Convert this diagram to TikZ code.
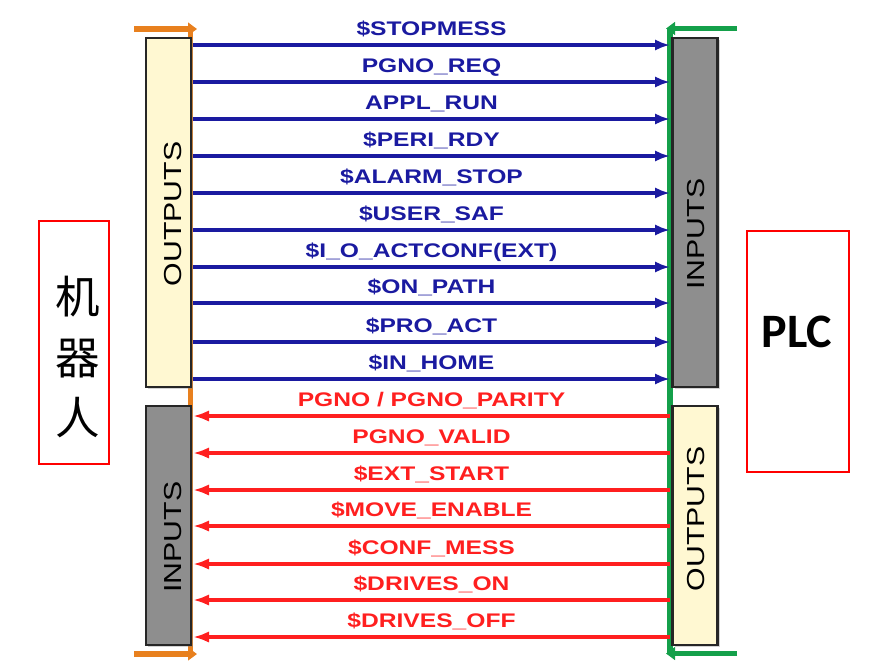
\documentclass[tikz,border=0pt]{standalone}
\usepackage{fontspec}
\setmainfont{Liberation Sans}
\newfontfamily\cjkfont{Noto Sans CJK SC}
\newfontfamily\plcfont{Carlito}
\usetikzlibrary{
  arrows.meta,
  shadows
}
\definecolor{ioBlue}{HTML}{1A1AA0}
\definecolor{ioRed}{HTML}{FF1F1F}
\definecolor{ioOrange}{HTML}{E8801E}
\definecolor{ioGreen}{HTML}{14A04A}
\definecolor{ioCream}{HTML}{FFF8D2}
\definecolor{ioGray}{HTML}{8E8E8E}
\definecolor{ioFrame}{HTML}{FF0000}
\newcommand{\widen}[1]{\scalebox{1.25}[1]{#1}}
\tikzset{
  iobox/.style={
    draw=black!85, line width=2pt, minimum width=1.35cm, inner sep=0pt,
    drop shadow={shadow xshift=0.6mm, shadow yshift=-0.6mm, opacity=0.35}
  },
  outbox/.style={iobox, fill=ioCream},
  inbox/.style={iobox, fill=ioGray},
  boxtext/.style={rotate=90, font=\fontsize{21}{24}\selectfont, inner sep=0pt},
  sidebox/.style={draw=ioFrame, line width=1.6pt, inner sep=0pt},
  sigout/.style={-{Latex[length=4.5mm, width=3.4mm]}, line width=2.8pt, ioBlue},
  sigin/.style={-{Latex[length=4.8mm, width=3.4mm]}, line width=2.8pt, ioRed},
  outtag/.style={font=\fontsize{16.8}{18}\selectfont\bfseries, text=ioBlue, anchor=base, inner sep=0pt},
  intag/.style={outtag, text=ioRed},
  busline/.style={line width=4.6pt},
  robotbus/.style={busline, ioOrange},
  plcbus/.style={busline, ioGreen},
  bustip/.style={-{Triangle[length=2.7mm, width=3.8mm]}}
}
\begin{document}
\begin{tikzpicture}[x=0.03cm, y=-0.03cm]
  \useasboundingbox (0,0) rectangle (880,670);
  % side frames
  \node[sidebox, minimum width=2.1cm, minimum height=7.29cm] (robot) at (74,342.5) {};
  \node[font=\cjkfont\fontsize{38}{52}\selectfont, align=center] (robotname) at (78,357) {机\\器\\人};
  \node[sidebox, minimum width=3.06cm, minimum height=7.23cm] (plc) at (798,351.5) {};
  \node[font=\plcfont\bfseries\fontsize{41}{44}\selectfont] (plcname) at (797,332) {PLC};
  % buses
  \coordinate (rtop) at (190.5,29); \coordinate (rbot) at (190.5,654);
  \coordinate (rtopfree) at (134,29); \coordinate (rbotfree) at (134,654);
  \coordinate (rtoptip) at (197,29); \coordinate (rbottip) at (197,654);
  \coordinate (ptop) at (670,28.5); \coordinate (pbot) at (670,653.5);
  \coordinate (ptopfree) at (737,28.5); \coordinate (pbotfree) at (737,653.5);
  \coordinate (ptoptip) at (666,28.5); \coordinate (pbottip) at (666,653.5);
  \draw[robotbus] (rtop) -- (rbot);
  \draw[robotbus, bustip] (rtopfree) -- (rtoptip);
  \draw[robotbus, bustip] (rbotfree) -- (rbottip);
  \draw[plcbus] (ptop) -- (pbot);
  \draw[plcbus, bustip] (ptopfree) -- (ptoptip);
  \draw[plcbus, bustip] (pbotfree) -- (pbottip);
  % I/O blocks
  \node[outbox, minimum height=10.47cm] (robout) at (168.5,212.5) {};
  \node[inbox, minimum height=7.17cm] (robin) at (168.5,525.5) {};
  \node[inbox, minimum height=10.47cm] (plcin) at (695,212.5) {};
  \node[outbox, minimum height=7.17cm] (plcout) at (695,525.5) {};
  \node[boxtext] (roboutname) at (173,214) {\scalebox{1.23}[1]{OUTPUTS}};
  \node[boxtext] (robinname) at (173,537) {\scalebox{1.23}[1]{INPUTS}};
  \node[boxtext] (plcinname) at (696,234) {\scalebox{1.23}[1]{INPUTS}};
  \node[boxtext] (plcoutname) at (696,519) {\scalebox{1.23}[1]{OUTPUTS}};
  % robot -> PLC
  \foreach \i/\y/\txt in {1/45/{\$STOPMESS}, 2/82/{PGNO\_REQ}, 3/119/{APPL\_RUN},
      4/156/{\$PERI\_RDY}, 5/193/{\$ALARM\_STOP}, 6/230/{\$USER\_SAF},
      7/267/{\$I\_O\_ACTCONF(EXT)}, 8/303/{\$ON\_PATH}, 9/342/{\$PRO\_ACT},
      10/379/{\$IN\_HOME}} {
    \coordinate (ro\i) at (193,\y);
    \coordinate (pi\i) at (670,\y);
    \draw[sigout] (ro\i) -- (pi\i);
    \node[outtag] (ot\i) at (431.5,\y-10) {\widen{\txt}};
  }
  % PLC -> robot
  \foreach \i/\y/\txt in {1/416/{PGNO / PGNO\_PARITY}, 2/453/{PGNO\_VALID},
      3/490/{\$EXT\_START}, 4/526/{\$MOVE\_ENABLE}, 5/564/{\$CONF\_MESS},
      6/600/{\$DRIVES\_ON}, 7/637/{\$DRIVES\_OFF}} {
    \coordinate (po\i) at (670,\y);
    \coordinate (ri\i) at (193,\y);
    \draw[sigin] (po\i) -- (ri\i);
    \node[intag] (it\i) at (431.5,\y-10) {\widen{\txt}};
  }
\end{tikzpicture}
\end{document}
